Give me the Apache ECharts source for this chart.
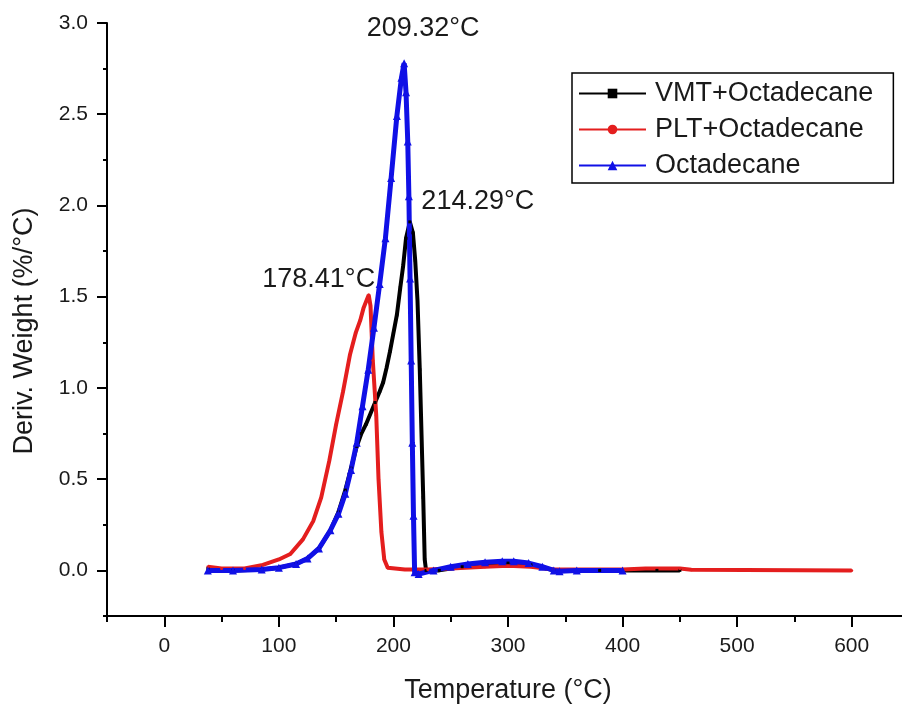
<!DOCTYPE html>
<html>
<head>
<meta charset="utf-8">
<script src="https://cdn.jsdelivr.net/npm/echarts@6/dist/echarts.min.js"></script>
<style>
  html, body { margin: 0; padding: 0; background: #fff; }
  #chart { width: 902px; height: 708px; }
</style>
</head>
<body>
<div id="chart"></div>
<script>
// DTG curves: temperature (°C) and deriv. weight (%/°C)
var vmtTemp = [38, 60, 85, 100, 115, 125, 135, 145, 152, 158, 163, 168, 172, 176, 180, 184, 188, 191, 194, 197, 200, 203, 206, 208.5, 211, 214.29, 217, 219, 221, 223, 224.5, 226, 227.3, 228.5, 240, 260, 280, 300, 320, 340, 380, 430, 450];
var vmtVal = [0.01, 0.0, 0.005, 0.015, 0.035, 0.065, 0.12, 0.22, 0.32, 0.44, 0.56, 0.68, 0.75, 0.80, 0.86, 0.92, 0.98, 1.03, 1.11, 1.20, 1.30, 1.40, 1.55, 1.67, 1.82, 1.91, 1.85, 1.70, 1.48, 1.10, 0.75, 0.40, 0.06, 0.0, 0.0, 0.02, 0.035, 0.04, 0.03, 0.0, 0.0, 0.0, 0.0];

var pltTemp = [38, 50, 70, 86, 100, 110, 121, 130, 137, 144, 150, 156, 162, 167, 171, 174, 178.41, 180, 182, 185, 187, 189.5, 192, 195, 210, 230, 250, 280, 300, 320, 340, 400, 420, 450, 460, 600];
var pltVal = [0.02, 0.01, 0.01, 0.03, 0.06, 0.09, 0.17, 0.27, 0.40, 0.60, 0.80, 0.98, 1.18, 1.30, 1.37, 1.44, 1.51, 1.45, 1.15, 0.85, 0.50, 0.21, 0.06, 0.015, 0.005, 0.005, 0.01, 0.02, 0.025, 0.02, 0.005, 0.005, 0.01, 0.01, 0.003, 0.0];

var octTemp = [38, 60, 85, 100, 115, 125, 135, 145, 152, 158, 163, 168, 173, 178, 183, 188, 193, 198, 203, 207, 209.32, 211, 212.5, 213.5, 214.5, 215.5, 216.5, 217.5, 218.5, 222, 235, 250, 265, 280, 295, 305, 318, 330, 340, 345, 360, 400];
var octVal = [0.0, 0.0, 0.005, 0.015, 0.035, 0.065, 0.12, 0.22, 0.31, 0.42, 0.55, 0.70, 0.90, 1.10, 1.33, 1.57, 1.82, 2.15, 2.49, 2.70, 2.78, 2.62, 2.35, 2.05, 1.60, 1.15, 0.70, 0.30, -0.01, -0.02, 0.0, 0.02, 0.035, 0.045, 0.05, 0.05, 0.04, 0.02, 0.0, -0.005, 0.0, 0.0];

var seriesNames = ['VMT+Octadecane', 'PLT+Octadecane', 'Octadecane'];
var seriesColors = ['#000000', '#e41e1e', '#1010e6'];

// peak labels
var peakTemps = [214.29, 178.41, 209.32];
var peakValues = [1.91, 1.51, 2.78];
var peakLabels = ['214.29°C', '178.41°C', '209.32°C'];
var peakOffsets = [[68, -20], [-50, -15], [19, -35]];

var xMajor = [0, 100, 200, 300, 400, 500, 600];
var yMajor = [0, 0.5, 1.0, 1.5, 2.0, 2.5, 3.0];

var FONT = '"Liberation Sans", Arial, sans-serif';

function pairs(xs, ys) {
    var out = [];
    for (var i = 0; i < xs.length; i++) {
        out.push([xs[i], ys[i]]);
    }
    return out;
}

function peakMark(i) {
    return {
        symbol: 'circle',
        symbolSize: 0,
        silent: true,
        itemStyle: { color: 'transparent' },
        label: {
            show: true,
            position: 'inside',
            offset: peakOffsets[i],
            formatter: peakLabels[i],
            color: '#1a1a1a',
            fontSize: 27,
            fontFamily: FONT
        },
        data: [{ coord: [peakTemps[i], peakValues[i]] }]
    };
}

var chart = echarts.init(document.getElementById('chart'));

var option = {
    backgroundColor: '#fff',
    animation: false,
    grid: { left: 107, right: -7, top: 23, bottom: 92, containLabel: false, outerBoundsMode: 'none' },
    legend: {
        orient: 'vertical',
        left: 572,
        top: 73,
        padding: [7, 20, 4, 6],
        itemGap: 9,
        itemWidth: 67,
        itemHeight: 12,
        borderColor: '#000',
        borderWidth: 1.5,
        textStyle: { fontSize: 27, fontFamily: FONT, color: '#1a1a1a', padding: [0, 0, 0, 4], lineHeight: 27 },
        data: seriesNames
    },
    xAxis: [
        {
            type: 'value',
            min: -50,
            max: 650,
            interval: 50,
            axisLine: { show: true, onZero: false, lineStyle: { color: '#000', width: 2 } },
            axisTick: { show: true, length: 6, lineStyle: { color: '#000', width: 2 } },
            axisLabel: { show: false },
            splitLine: { show: false }
        },
        {
            type: 'value',
            position: 'bottom',
            min: -50,
            max: 650,
            axisLine: { show: false, onZero: false },
            axisTick: { show: true, length: 11, customValues: xMajor, lineStyle: { color: '#000', width: 2 } },
            axisLabel: {
                show: true,
                customValues: xMajor,
                margin: 20,
                fontSize: 21,
                fontFamily: FONT,
                color: '#1a1a1a'
            },
            splitLine: { show: false },
            name: 'Temperature (°C)',
            nameLocation: 'middle',
            nameGap: 61,
            nameTextStyle: { fontSize: 27, fontFamily: FONT, color: '#1a1a1a' }
        }
    ],
    yAxis: [
        {
            type: 'value',
            min: -0.25,
            max: 3,
            interval: 0.25,
            axisLine: { show: true, onZero: false, lineStyle: { color: '#000', width: 2 } },
            axisTick: { show: true, length: 4, lineStyle: { color: '#000', width: 2 } },
            axisLabel: { show: false },
            splitLine: { show: false }
        },
        {
            type: 'value',
            position: 'left',
            min: -0.25,
            max: 3,
            axisLine: { show: false, onZero: false },
            axisTick: { show: true, length: 10, customValues: yMajor, lineStyle: { color: '#000', width: 2 } },
            axisLabel: {
                show: true,
                customValues: yMajor,
                margin: 19,
                fontSize: 21,
                fontFamily: FONT,
                color: '#1a1a1a',
                formatter: function (v) { return v.toFixed(1); }
            },
            splitLine: { show: false },
            name: 'Deriv. Weight (%/°C)',
            nameLocation: 'middle',
            nameGap: 69,
            nameTextStyle: { fontSize: 27, fontFamily: FONT, color: '#1a1a1a', padding: [0, 23, 0, 0] }
        }
    ],
    series: [
        {
            name: seriesNames[0],
            type: 'line',
            data: pairs(vmtTemp, vmtVal),
            color: seriesColors[0],
            lineStyle: { width: 4 },
            symbol: 'rect',
            symbolSize: 3,
            showSymbol: true,
            markPoint: peakMark(0)
        },
        {
            name: seriesNames[1],
            type: 'line',
            data: pairs(pltTemp, pltVal),
            color: seriesColors[1],
            lineStyle: { width: 4 },
            symbol: 'circle',
            symbolSize: 3,
            showSymbol: true,
            markPoint: peakMark(1)
        },
        {
            name: seriesNames[2],
            type: 'line',
            data: pairs(octTemp, octVal),
            color: seriesColors[2],
            lineStyle: { width: 5 },
            symbol: 'triangle',
            symbolSize: 8,
            showSymbol: true,
            markPoint: peakMark(2)
        }
    ]
};

chart.setOption(option);
</script>
</body>
</html>
